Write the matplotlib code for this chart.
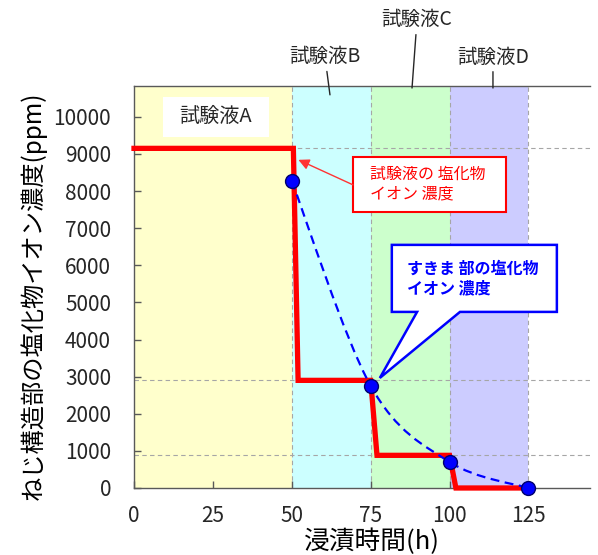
import matplotlib
matplotlib.use("Agg")
import matplotlib.pyplot as plt
import numpy as np
from matplotlib.path import Path
from matplotlib.patches import PathPatch, Polygon, Rectangle

plt.rcParams["font.family"] = ["Noto Sans CJK JP", "DejaVu Sans"]

# --- data -------------------------------------------------------------
band_edges = [0, 50, 75, 100, 125]
band_names = ["試験液A", "試験液B", "試験液C", "試験液D"]
band_colors = ["#FFFFCC", "#CCFFFF", "#CCFFCC", "#CCCCFF"]

# chloride ion concentration of the test solution (step changes)
solution_time = [0, 50.5, 52, 75, 77, 100, 102, 125]
solution_ppm = [9150, 9150, 2900, 2900, 880, 880, 0, 0]

# chloride ion concentration inside the crevice
crevice_time = [50, 75, 100, 125]
crevice_ppm = [8270, 2750, 700, 0]

x_ticks = [0, 25, 50, 75, 100, 125]
y_ticks = list(range(0, 10001, 1000))


def smooth_path(xs, ys):
    """Cubic Bezier path through the points (Catmull-Rom style smoothing)."""
    pts = np.column_stack([xs, ys]).astype(float)
    n = len(pts)
    verts = [pts[0]]
    codes = [Path.MOVETO]
    for i in range(n - 1):
        p0 = pts[i - 1] if i > 0 else pts[i]
        p1, p2 = pts[i], pts[i + 1]
        p3 = pts[i + 2] if i + 2 < n else pts[i + 1]
        verts += [p1 + (p2 - p0) / 6, p2 - (p3 - p1) / 6, p2]
        codes += [Path.CURVE4] * 3
    return Path(verts, codes)


fig = plt.figure(figsize=(5.98, 5.55), dpi=100)
ax = fig.add_axes([134 / 598, 1 - 488 / 555, (590 - 134) / 598, (488 - 86) / 555])
ax.set_xlim(0, 144.5)
ax.set_ylim(0, 10830)

# background bands for each test solution
for lo, hi, c in zip(band_edges[:-1], band_edges[1:], band_colors):
    ax.axvspan(lo, hi, color=c, lw=0, zorder=0)

grid_kw = dict(color="#A6A6A6", lw=0.8, ls=(0, (4, 3)), zorder=1)
for x in band_edges[1:]:
    ax.axvline(x, **grid_kw)
for y in sorted(set(solution_ppm)):
    if y > 0:
        ax.axhline(y, **grid_kw)

# test solution concentration
ax.plot(solution_time, solution_ppm, color="#FF0000", lw=3.8,
        solid_joinstyle="miter", zorder=3, clip_on=False)

# crevice concentration: smoothed dashed line plus markers
ax.add_patch(PathPatch(smooth_path(crevice_time, crevice_ppm), fill=False,
                       edgecolor="#0000FF", lw=1.6, ls=(0, (4, 2.5)), zorder=4))
ax.plot(crevice_time, crevice_ppm, "o", ms=10, mfc="#0000FF", mec="#00006E",
        mew=1, zorder=5, clip_on=False)

# axes styling
for side in ("left", "bottom", "top"):
    ax.spines[side].set_color("#595959")
    ax.spines[side].set_linewidth(1)
ax.spines["right"].set_visible(False)
ax.set_xticks(x_ticks)
ax.set_yticks(y_ticks)
ax.tick_params(direction="in", length=5, width=1, color="#595959",
               labelsize=15, labelcolor="#262626")
ax.tick_params(axis="x", pad=12)
ax.tick_params(axis="y", pad=16.5)
ax.set_xlabel("浸漬時間(h)", fontsize=18.5, va="top")
ax.xaxis.set_label_coords(0.522, -0.102)
ax.set_ylabel("ねじ構造部の塩化物イオン濃度(ppm)", fontsize=17.5)
ax.yaxis.set_label_coords(-0.191, 0.478)

# label for solution A inside the plot
ax.add_patch(Rectangle((9.2, 9461), 33.6, 1078, fc="white", ec="none", zorder=2))
ax.text(26, 10000, band_names[0], ha="center", va="center", fontsize=14.5,
        color="#262626", zorder=3)

# labels for solutions B, C, D above the plot with leader lines
header = [(band_names[1], 62.1, 0.978, (-3.6, 27.4)),
          (band_names[2], 88.1, 0.995, (3.6, 49)),
          (band_names[3], 113.75, 0.995, (0, 22.3))]
for name, x, yf, off in header:
    ax.annotate(name, xy=(x, yf), xycoords=("data", "axes fraction"),
                xytext=off, textcoords="offset points", ha="center", va="center",
                fontsize=14, color="#262626", annotation_clip=False,
                arrowprops=dict(arrowstyle="-", color="#262626", lw=1,
                                shrinkA=1, shrinkB=0))

# callout for the test solution line
ax.add_patch(Rectangle((69.4, 7439), 48.5, 1483, fc="white", ec="#FF0000",
                       lw=1.5, zorder=6))
ax.text(74.8, 8180, "試験液の 塩化物\nイオン 濃度", ha="left", va="center",
        fontsize=11.5, color="#FF0000", linespacing=1.2, zorder=7)
ax.annotate("", xy=(52.1, 8841), xytext=(69.4, 8167),
            arrowprops=dict(arrowstyle="-|>", color="#FF3333", lw=1,
                            mutation_scale=16, shrinkA=0, shrinkB=0), zorder=6)

# wedge callout for the crevice line
callout = [(81.7, 4744), (89.7, 4744), (77.9, 2965), (103.3, 4744),
           (134.0, 4744), (134.0, 6550), (81.7, 6550)]
ax.add_patch(Polygon(callout, closed=True, fc="white", ec="#0000FF", lw=1.8,
                     joinstyle="miter", zorder=6))
ax.text(86.5, 5647, "すきま 部の塩化物\nイオン 濃度", ha="left", va="center",
        fontsize=11.5, fontweight="bold", color="#0000FF", linespacing=1.3,
        zorder=7)

fig.savefig("out.png", dpi=100)
